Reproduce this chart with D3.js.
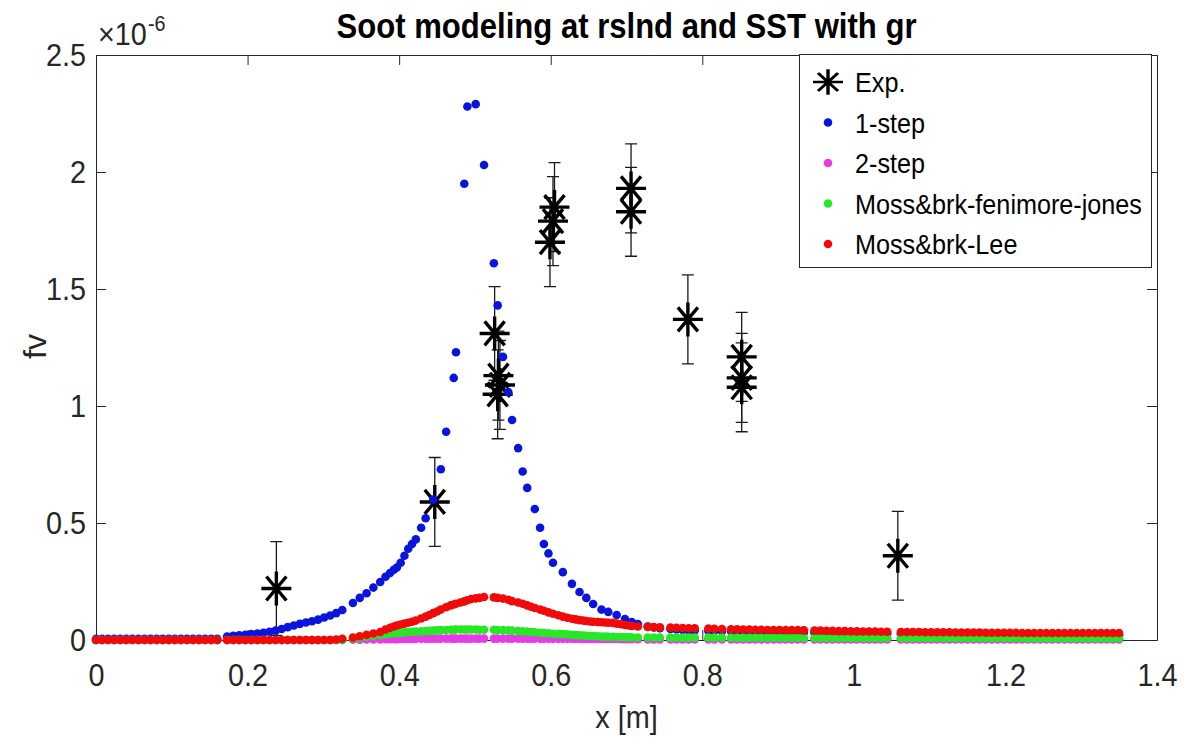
<!DOCTYPE html>
<html>
<head>
<meta charset="utf-8">
<script src="https://cdn.jsdelivr.net/npm/d3@7"></script>
<style>
  body { margin: 0; background: #fff; }
  text { font-family: "Liberation Sans", Arial, Helvetica, sans-serif; }
</style>
</head>
<body>
<div id="chart"></div>
<script>
// fv values are in units of 1e-6 (the y axis carries the x10^-6 factor)
var xTicks = [0, 0.2, 0.4, 0.6, 0.8, 1, 1.2, 1.4];
var xTickLabels = ["0", "0.2", "0.4", "0.6", "0.8", "1", "1.2", "1.4"];
var yTicks = [0, 0.5, 1, 1.5, 2, 2.5];
var yTickLabels = ["0", "0.5", "1", "1.5", "2", "2.5"];

var legendNames = ["Exp.", "1-step", "2-step", "Moss&brk-fenimore-jones", "Moss&brk-Lee"];

// experimental points with error bars
var expX = [0.238, 0.447, 0.526, 0.531, 0.533, 0.530, 0.605, 0.603, 0.599, 0.706, 0.706, 0.781, 0.852, 0.852, 0.852, 1.058];
var expY = [0.22, 0.59, 1.31, 1.13, 1.09, 1.05, 1.85, 1.79, 1.70, 1.93, 1.83, 1.37, 1.21, 1.12, 1.08, 0.36];
var expErr = [0.20, 0.19, 0.20, 0.19, 0.19, 0.19, 0.19, 0.19, 0.19, 0.19, 0.19, 0.19, 0.19, 0.19, 0.19, 0.19];

// mesh positions shared by the model series
var gridX = [
  0, 0.008, 0.016, 0.024, 0.032, 0.040, 0.048, 0.056, 0.064, 0.072,
  0.080, 0.088, 0.096, 0.104, 0.112, 0.120, 0.128, 0.136, 0.144, 0.152,
  0.160,
  0.173, 0.181, 0.189, 0.197, 0.205, 0.213, 0.221, 0.229, 0.237, 0.245,
  0.253, 0.261, 0.269, 0.277, 0.285, 0.293, 0.301, 0.309, 0.317, 0.325,
  0.339, 0.348, 0.357, 0.366, 0.375, 0.382, 0.388, 0.393, 0.397, 0.402,
  0.407, 0.412, 0.417, 0.422, 0.429, 0.435, 0.440, 0.445, 0.450, 0.455,
  0.462, 0.468, 0.472, 0.475, 0.481, 0.486, 0.490, 0.495, 0.501, 0.506,
  0.512,
  0.525, 0.530, 0.537, 0.544, 0.549, 0.557, 0.563, 0.569, 0.574, 0.579,
  0.586, 0.591, 0.597, 0.603, 0.610, 0.616, 0.622, 0.628, 0.633, 0.638,
  0.643, 0.647, 0.652, 0.656, 0.662, 0.667, 0.672, 0.676, 0.682, 0.687,
  0.693, 0.698, 0.703, 0.707, 0.715,
  0.728, 0.736, 0.744, 0.758, 0.766, 0.774, 0.782, 0.790, 0.808, 0.816,
  0.826, 0.838, 0.846, 0.854, 0.862, 0.870, 0.878, 0.886, 0.894, 0.902,
  0.910, 0.918, 0.926, 0.934, 0.948, 0.956, 0.964, 0.972, 0.980, 0.988,
  0.996, 1.004, 1.012, 1.020, 1.028, 1.036, 1.044,
  1.062, 1.070, 1.078, 1.086, 1.094, 1.102, 1.110, 1.118, 1.126, 1.134,
  1.142, 1.150, 1.158, 1.166, 1.174, 1.182, 1.190, 1.198, 1.206, 1.214,
  1.222, 1.230, 1.238, 1.246, 1.254, 1.262, 1.270, 1.278, 1.286, 1.294,
  1.302, 1.310, 1.318, 1.326, 1.334, 1.342, 1.350
];

var oneStep = [
  0.005, 0.005, 0.005, 0.005, 0.005, 0.005, 0.005, 0.005, 0.005, 0.005,
  0.005, 0.005, 0.005, 0.005, 0.005, 0.005, 0.005, 0.005, 0.005, 0.005,
  0.005,
  0.015, 0.018, 0.020, 0.022, 0.025, 0.028, 0.031, 0.035, 0.040, 0.047,
  0.055, 0.062, 0.069, 0.075, 0.080, 0.087, 0.096, 0.105, 0.115, 0.128,
  0.158, 0.180, 0.200, 0.224, 0.248, 0.270, 0.286, 0.300, 0.310, 0.330,
  0.360, 0.390, 0.410, 0.430, 0.480, 0.520, null, 0.600, null, 0.730,
  0.890, null, 1.120, 1.230, null, 1.950, 2.280, null, 2.290, null,
  2.030,
  1.610, 1.430, 1.210, 1.060, 0.940, 0.820, 0.720, 0.650, null, 0.560,
  0.480, 0.410, 0.370, 0.330, null, 0.290, null, 0.240, null, 0.205,
  null, 0.180, null, 0.154, null, 0.130, null, 0.120, null, 0.107,
  null, 0.090, null, 0.077, 0.068,
  0.058, 0.054, 0.050, 0.047, 0.045, 0.043, 0.042, 0.041, 0.040, 0.039,
  0.038, 0.037, 0.037, 0.036, 0.036, 0.035, 0.035, 0.034, 0.034, 0.033,
  0.033, 0.033, 0.032, 0.032, 0.031, 0.031, 0.031, 0.030, 0.030, 0.030,
  0.029, 0.029, 0.029, 0.028, 0.028, 0.028, 0.028,
  0.027, 0.027, 0.027, 0.027, 0.027, 0.026, 0.026, 0.026, 0.026, 0.026,
  0.025, 0.025, 0.025, 0.025, 0.025, 0.024, 0.024, 0.024, 0.024, 0.024,
  0.023, 0.023, 0.023, 0.023, 0.023, 0.022, 0.022, 0.022, 0.022, 0.022,
  0.021, 0.021, 0.021, 0.021, 0.021, 0.020, 0.020
];

var twoStep = [
  0, 0, 0, 0, 0, 0, 0, 0, 0, 0,
  0, 0, 0, 0, 0, 0, 0, 0, 0, 0,
  0,
  0, 0, 0, 0, 0, 0, 0, 0, 0, 0,
  0, 0, 0, 0, 0, 0, 0, 0, 0, 0,
  0.001, 0.001, 0.002, 0.002, 0.002, 0.003, 0.003, 0.003, 0.003, 0.004,
  0.004, 0.004, 0.004, 0.005, 0.005, 0.005, 0.005, 0.006, 0.006, 0.006,
  0.006, 0.006, 0.006, 0.006, 0.006, 0.006, 0.006, 0.006, 0.006, 0.006,
  0.006,
  0.006, 0.006, 0.006, 0.006, 0.006, 0.006, 0.006, 0.006, 0.006, 0.006,
  0.005, 0.005, 0.005, 0.005, 0.005, 0.005, 0.005, 0.005, 0.005, 0.005,
  0.004, 0.004, 0.004, 0.004, 0.004, 0.004, 0.004, 0.004, 0.004, 0.004,
  0.003, 0.003, 0.003, 0.003, 0.003,
  0.002, 0.002, 0.002, 0.002, 0.002, 0.002, 0.002, 0.002, 0.002, 0.002,
  0.002, 0.002, 0.002, 0.002, 0.002, 0.002, 0.002, 0.002, 0.002, 0.002,
  0.002, 0.002, 0.002, 0.002, 0.002, 0.002, 0.002, 0.002, 0.002, 0.002,
  0.002, 0.002, 0.002, 0.002, 0.002, 0.002, 0.002,
  0.002, 0.002, 0.002, 0.002, 0.002, 0.002, 0.002, 0.002, 0.002, 0.002,
  0.002, 0.002, 0.002, 0.002, 0.002, 0.002, 0.002, 0.002, 0.002, 0.002,
  0.002, 0.002, 0.002, 0.002, 0.002, 0.002, 0.002, 0.002, 0.002, 0.002,
  0.002, 0.002, 0.002, 0.002, 0.002, 0.002, 0.002
];

var fenimoreJones = [
  0, 0, 0, 0, 0, 0, 0, 0, 0, 0,
  0, 0, 0, 0, 0, 0, 0, 0, 0, 0,
  0,
  0, 0, 0, 0, 0, 0, 0, 0, 0, 0,
  0, 0, 0, 0, 0, 0, 0, 0, 0, 0,
  0.006, 0.010, 0.014, 0.018, 0.022, 0.025, 0.027, 0.029, 0.030, 0.031,
  0.033, 0.034, 0.035, 0.036, 0.037, 0.038, 0.039, 0.040, 0.041, 0.042,
  0.043, 0.044, 0.044, 0.045, 0.045, 0.045, 0.045, 0.045, 0.045, 0.044,
  0.044,
  0.044, 0.043, 0.042, 0.041, 0.040, 0.038, 0.037, 0.036, 0.034, 0.033,
  0.031, 0.030, 0.029, 0.027, 0.026, 0.025, 0.024, 0.022, 0.021, 0.020,
  0.019, 0.018, 0.017, 0.017, 0.016, 0.015, 0.015, 0.014, 0.014, 0.013,
  0.013, 0.012, 0.012, 0.012, 0.011,
  0.011, 0.011, 0.011, 0.010, 0.010, 0.010, 0.010, 0.010, 0.010, 0.010,
  0.010, 0.010, 0.010, 0.010, 0.010, 0.010, 0.010, 0.010, 0.010, 0.010,
  0.010, 0.010, 0.010, 0.009, 0.009, 0.009, 0.009, 0.009, 0.009, 0.009,
  0.009, 0.009, 0.009, 0.009, 0.009, 0.009, 0.009,
  0.009, 0.009, 0.009, 0.009, 0.009, 0.009, 0.009, 0.009, 0.009, 0.009,
  0.009, 0.009, 0.009, 0.009, 0.009, 0.009, 0.009, 0.009, 0.009, 0.009,
  0.008, 0.008, 0.008, 0.008, 0.008, 0.008, 0.008, 0.008, 0.008, 0.008,
  0.008, 0.008, 0.008, 0.008, 0.008, 0.008, 0.008
];

var lee = [
  0, 0, 0, 0, 0, 0, 0, 0, 0, 0,
  0, 0, 0, 0, 0, 0, 0, 0, 0, 0,
  0,
  0, 0, 0, 0, 0, 0, 0, 0, 0, 0,
  0, 0, 0, 0, 0, 0, 0, 0, 0.002, 0.005,
  0.010, 0.016, 0.022, 0.028, 0.034, 0.045, 0.052, 0.058, 0.062, 0.066,
  0.070, 0.074, 0.078, 0.083, 0.092, 0.100, 0.107, 0.115, 0.122, 0.130,
  0.140, 0.148, 0.152, 0.155, 0.160, 0.165, 0.170, 0.175, 0.178, 0.180,
  0.184,
  0.182, 0.180, 0.177, 0.172, 0.166, 0.160, 0.155, 0.148, 0.142, 0.137,
  0.130, 0.125, 0.118, 0.112, 0.106, 0.100, 0.095, 0.091, 0.088, 0.085,
  0.083, 0.081, 0.079, 0.078, 0.077, 0.076, 0.075, 0.074, 0.073, 0.070,
  0.067, 0.064, 0.062, 0.060, 0.058,
  0.056, 0.055, 0.054, 0.053, 0.052, 0.051, 0.050, 0.050, 0.049, 0.048,
  0.047, 0.046, 0.046, 0.045, 0.045, 0.044, 0.044, 0.043, 0.043, 0.043,
  0.042, 0.042, 0.042, 0.041, 0.040, 0.040, 0.039, 0.039, 0.038, 0.038,
  0.037, 0.037, 0.036, 0.036, 0.036, 0.035, 0.035,
  0.034, 0.034, 0.034, 0.034, 0.033, 0.033, 0.033, 0.033, 0.033, 0.032,
  0.032, 0.032, 0.032, 0.032, 0.031, 0.031, 0.031, 0.031, 0.031, 0.031,
  0.030, 0.030, 0.030, 0.030, 0.030, 0.030, 0.030, 0.030, 0.030, 0.030,
  0.030, 0.030, 0.030, 0.030, 0.030, 0.030, 0.030
];

var width = 1186, height = 744;
var margin = {top: 55, right: 29, bottom: 104, left: 96};
var axisColor = "#262626";
var squeeze = "scale(0.9,1)"; // the reference glyphs are a little narrow
var dotRadius = 4.3;

var x = d3.scaleLinear().domain([0, 1.4]).range([margin.left, width - margin.right]);
var y = d3.scaleLinear().domain([0, 2.5]).range([height - margin.bottom, margin.top]);

var svg = d3.select("#chart").append("svg")
  .attr("width", width)
  .attr("height", height)
  .style("display", "block");

svg.append("rect").attr("width", width).attr("height", height).attr("fill", "#fff");

function styleAxis(g) {
  g.attr("font-family", null).attr("font-size", null);
  g.selectAll("path, line").attr("stroke", axisColor).attr("stroke-width", 1);
  g.selectAll("text")
    .attr("fill", axisColor)
    .style("font-size", "32px")
    .attr("transform", squeeze);
}
function noLabel() { return ""; }

// box with inward ticks
svg.append("g")
  .attr("transform", "translate(0," + y(0) + ")")
  .call(d3.axisBottom(x).tickValues(xTicks).tickFormat(function (d, i) { return xTickLabels[i]; })
    .tickSizeInner(-10).tickSizeOuter(0).tickPadding(23))
  .call(styleAxis);
svg.append("g")
  .attr("transform", "translate(0," + y(2.5) + ")")
  .call(d3.axisTop(x).tickValues(xTicks).tickFormat(noLabel).tickSizeInner(-10).tickSizeOuter(0))
  .call(styleAxis);
svg.append("g")
  .attr("transform", "translate(" + x(0) + ",0)")
  .call(d3.axisLeft(y).tickValues(yTicks).tickFormat(function (d, i) { return yTickLabels[i]; })
    .tickSizeInner(-10).tickSizeOuter(0).tickPadding(11))
  .call(styleAxis);
svg.append("g")
  .attr("transform", "translate(" + x(1.4) + ",0)")
  .call(d3.axisRight(y).tickValues(yTicks).tickFormat(noLabel).tickSizeInner(-10).tickSizeOuter(0))
  .call(styleAxis);

// experimental data: error bars and asterisks
var starShape = "M-15,0H15M0,-17V17M-10,-12L10,12M-10,12L10,-12";
var expData = expX.map(function (d, i) { return {x: d, y: expY[i], e: expErr[i]}; });
var expG = svg.append("g");
expG.selectAll("path.err")
  .data(expData)
  .enter()
  .append("path")
  .attr("class", "err")
  .attr("d", function (d) {
    var x0 = x(d.x), y1 = y(d.y + d.e), y2 = y(d.y - d.e);
    return "M" + x0 + "," + y1 + "V" + y2 +
      "M" + (x0 - 6) + "," + y1 + "H" + (x0 + 6) +
      "M" + (x0 - 6) + "," + y2 + "H" + (x0 + 6);
  })
  .attr("fill", "none")
  .attr("stroke", "#1a1a1a")
  .attr("stroke-width", 1.3);
expG.selectAll("path.star")
  .data(expData)
  .enter()
  .append("path")
  .attr("class", "star")
  .attr("transform", function (d) { return "translate(" + x(d.x) + "," + y(d.y) + ")"; })
  .attr("d", starShape)
  .attr("fill", "none")
  .attr("stroke", "#000")
  .attr("stroke-width", 3.4);

// model series, drawn in plotting order (red ends on top)
var models = [
  {values: oneStep, color: "#0a14dc"},
  {values: twoStep, color: "#e63ce6"},
  {values: fenimoreJones, color: "#28e628"},
  {values: lee, color: "#f00a0a"}
];
models.forEach(function (m) {
  var pts = gridX
    .map(function (gx, i) { return {x: gx, v: m.values[i]}; })
    .filter(function (p) { return p.v != null; });
  svg.append("g")
    .selectAll("circle")
    .data(pts)
    .enter()
    .append("circle")
    .attr("cx", function (d) { return x(d.x); })
    .attr("cy", function (d) { return y(d.v); })
    .attr("r", dotRadius)
    .attr("fill", m.color);
});

// title, exponent and axis labels
svg.append("text")
  .attr("x", (x(0) + x(1.4)) / 2)
  .attr("y", 38)
  .attr("text-anchor", "middle")
  .attr("textLength", 580)
  .attr("lengthAdjust", "spacingAndGlyphs")
  .style("font-size", "35px")
  .style("font-weight", "bold")
  .attr("fill", "#000")
  .text("Soot modeling at rslnd and SST with gr");

svg.append("text")
  .attr("transform", "translate(98,45) " + squeeze)
  .style("font-size", "32px")
  .attr("fill", axisColor)
  .text("\u00d710");
svg.append("text")
  .attr("transform", "translate(148,31) " + squeeze)
  .style("font-size", "22px")
  .attr("fill", axisColor)
  .text("-6");

svg.append("text")
  .attr("transform", "translate(46," + (y(1.25) - 1) + ") rotate(-90)")
  .attr("text-anchor", "middle")
  .style("font-size", "32px")
  .attr("fill", axisColor)
  .text("fv");

svg.append("text")
  .attr("transform", "translate(" + ((x(0) + x(1.4)) / 2) + ",728) " + squeeze)
  .attr("text-anchor", "middle")
  .style("font-size", "32px")
  .attr("fill", axisColor)
  .text("x [m]");

// legend
var legend = svg.append("g");
legend.append("rect")
  .attr("x", 799.5).attr("y", 54.5)
  .attr("width", 352).attr("height", 213)
  .attr("fill", "#fff")
  .attr("stroke", axisColor)
  .attr("stroke-width", 1);
legendNames.forEach(function (name, i) {
  var cy = 82 + i * 40.5;
  if (i === 0) {
    legend.append("path")
      .attr("transform", "translate(828," + cy + ") scale(1,0.75)")
      .attr("d", starShape)
      .attr("fill", "none")
      .attr("stroke", "#000")
      .attr("stroke-width", 3.4);
  } else {
    legend.append("circle")
      .attr("cx", 828).attr("cy", cy).attr("r", 4.3)
      .attr("fill", models[i - 1].color);
  }
  legend.append("text")
    .attr("transform", "translate(855," + (cy + 10) + ") " + squeeze)
    .style("font-size", "28px")
    .attr("fill", "#000")
    .text(name);
});
</script>
</body>
</html>
